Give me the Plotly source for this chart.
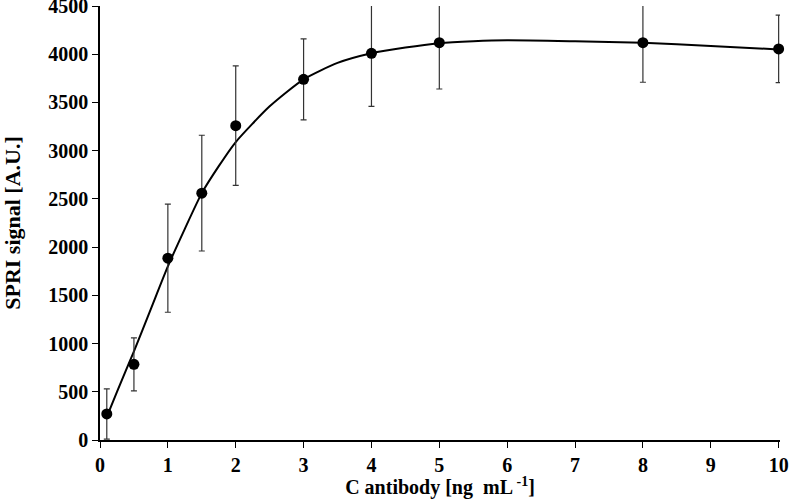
import plotly.graph_objects as go

# Measured data points
conc = [0.1, 0.5, 1, 1.5, 2, 3, 4, 5, 8, 10]
signal = [270, 785, 1885, 2560, 3260, 3740, 4010, 4120, 4120, 4055]
signal_err = [260, 275, 560, 600, 620, 420, 550, 480, 410, 350]

# Fitted curve
fit_x = [0.1, 0.25, 0.5, 0.75, 1, 1.25, 1.5, 1.75, 2, 2.5, 3, 3.5, 4, 4.5, 5, 5.5, 6, 7, 8, 9, 10]
fit_y = [240, 500, 920, 1360, 1800, 2190, 2560, 2840, 3090, 3460, 3740, 3910, 4010, 4070,
         4115, 4135, 4145, 4135, 4120, 4085, 4050]

x_ticks = [0, 1, 2, 3, 4, 5, 6, 7, 8, 9, 10]
y_ticks = [0, 500, 1000, 1500, 2000, 2500, 3000, 3500, 4000, 4500]

font_family = "Liberation Serif"

fig = go.Figure()
fig.add_trace(go.Scatter(
    x=fit_x, y=fit_y, mode="lines",
    line=dict(color="black", width=2, shape="spline", smoothing=0.6),
    hoverinfo="skip", showlegend=False,
))
fig.add_trace(go.Scatter(
    x=conc, y=signal, mode="markers",
    marker=dict(color="black", size=11),
    error_y=dict(type="data", array=signal_err, visible=True,
                 color="#333333", thickness=1.2, width=3),
    cliponaxis=False, showlegend=False,
))

axis_common = dict(
    showgrid=False, zeroline=False, showline=True, linecolor="black", linewidth=1.5,
    ticks="outside", ticklen=6, tickwidth=1.3, tickcolor="black", automargin=False,
    ticklabeloverflow="allow",
    tickfont=dict(family=font_family, size=20, color="black", weight="bold"),
)

fig.update_layout(
    width=789, height=499,
    margin=dict(l=100, r=9, t=6, b=59),
    plot_bgcolor="white", paper_bgcolor="white",
    font=dict(family=font_family, color="black"),
    xaxis=dict(range=[0, 10.02], tickvals=x_ticks, **axis_common,
               title=dict(text="C antibody [ng  mL<sup> -1</sup>]",
                          font=dict(family=font_family, size=20, color="black", weight="bold"),
                          standoff=4)),
    yaxis=dict(range=[0, 4500.5], tickvals=y_ticks, **axis_common,
               title=dict(text="SPRI signal [A.U.]",
                          font=dict(family=font_family, size=22, color="black", weight="bold"),
                          standoff=24)),
)

fig.write_html(
    "out.html",
    config={"displayModeBar": False},
    post_script="document.body.style.margin='0';document.body.style.overflow='hidden';",
)
